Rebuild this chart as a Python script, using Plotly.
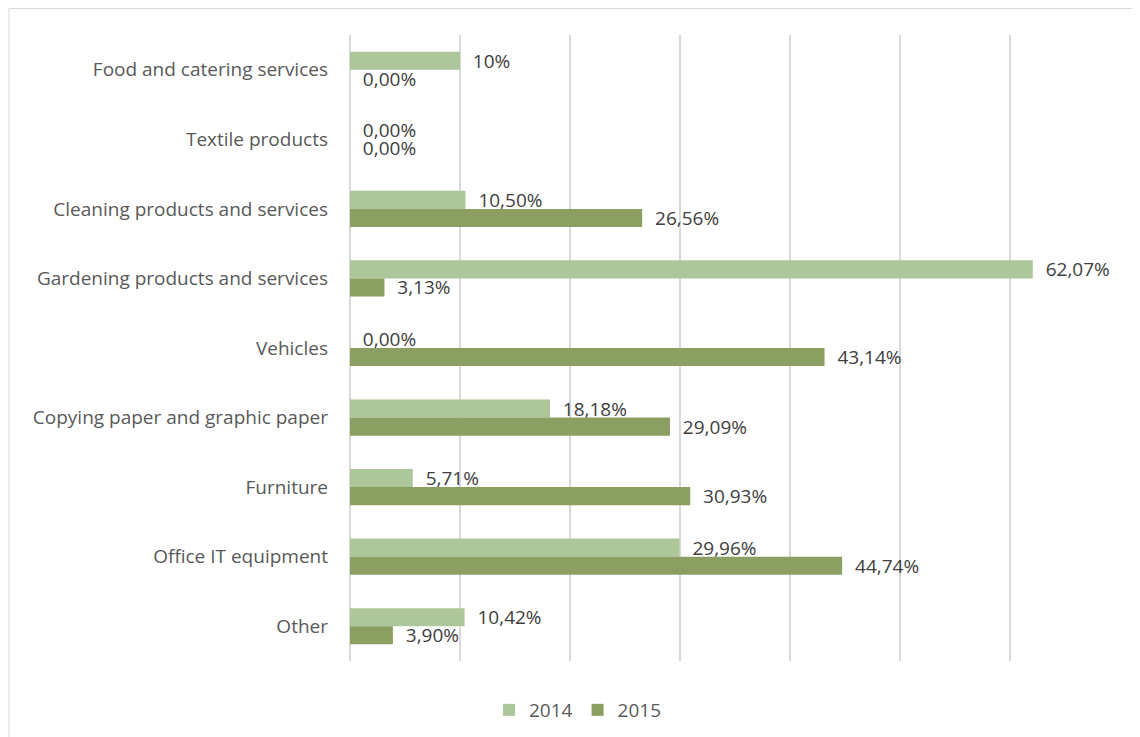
import plotly.graph_objects as go

categories = ["Food and catering services", "Textile products", "Cleaning products and services",
              "Gardening products and services", "Vehicles", "Copying paper and graphic paper",
              "Furniture", "Office IT equipment", "Other"]
values_2014 = [10.0, 0.0, 10.50, 62.07, 0.0, 18.18, 5.71, 29.96, 10.42]
values_2015 = [0.0, 0.0, 26.56, 3.13, 43.14, 29.09, 30.93, 44.74, 3.90]
labels_2014 = ["10%", "0,00%", "10,50%", "62,07%", "0,00%", "18,18%", "5,71%", "29,96%", "10,42%"]
labels_2015 = ["0,00%", "0,00%", "26,56%", "3,13%", "43,14%", "29,09%", "30,93%", "44,74%", "3,90%"]

FONT = "Open Sans"
FS = 19
pad = "\u00a0\u00a0"

fig = go.Figure()
fig.add_trace(go.Bar(
    name="2014", y=categories, x=values_2014, orientation="h",
    marker=dict(color="#adc69a", line=dict(width=0)),
    text=[pad + t for t in labels_2014], textposition="outside", constraintext="none",
    cliponaxis=False, textfont=dict(family=FONT, size=FS, color="#404040"),
    hoverinfo="x+y",
))
fig.add_trace(go.Bar(
    name="2015", y=categories, x=values_2015, orientation="h",
    marker=dict(color="#8a9f61", line=dict(width=0)),
    text=[pad + t for t in labels_2015], textposition="outside", constraintext="none",
    cliponaxis=False, textfont=dict(family=FONT, size=FS, color="#404040"),
    hoverinfo="x+y",
))

# page has an 8px body margin; coordinates below are figure pixels
W, H = 1140, 737
L, T = 342, 27
pw = 770
ph = 626
R = W - L - pw
B = H - T - ph

def px_x(p):
    return (p - L) / pw

def px_y(p):
    return 1 - (p - T) / ph

fig.update_layout(
    width=W, height=H,
    margin=dict(l=L, r=R, t=T, b=B),
    paper_bgcolor="white", plot_bgcolor="white",
    barmode="group", bargap=0.48, bargroupgap=0,
    font=dict(family=FONT, size=FS, color="#595959"),
    xaxis=dict(range=[0, 70], dtick=10, showticklabels=False, showgrid=True,
               gridcolor="#d9d9d9", gridwidth=1.5, zeroline=True, zerolinecolor="#d9d9d9",
               zerolinewidth=1.5, showline=False, fixedrange=True),
    yaxis=dict(autorange="reversed", showgrid=False, showline=False, zeroline=False,
               ticks="", ticklabelstandoff=21, tickfont=dict(family=FONT, size=FS, color="#595959")),
    legend=dict(orientation="h", xref="container", yref="container", x=0.5, y=1 - 702 / H,
                xanchor="center", yanchor="middle", font=dict(family=FONT, size=FS, color="#595959"),
                itemwidth=30, traceorder="normal"),
    shapes=[dict(type="rect", xref="paper", yref="paper",
                 x0=px_x(1), x1=px_x(1160), y0=px_y(760), y1=px_y(0.5),
                 line=dict(color="#d9d9d9", width=1), fillcolor="rgba(0,0,0,0)", layer="below")],
)

fig.write_html("out.html")
